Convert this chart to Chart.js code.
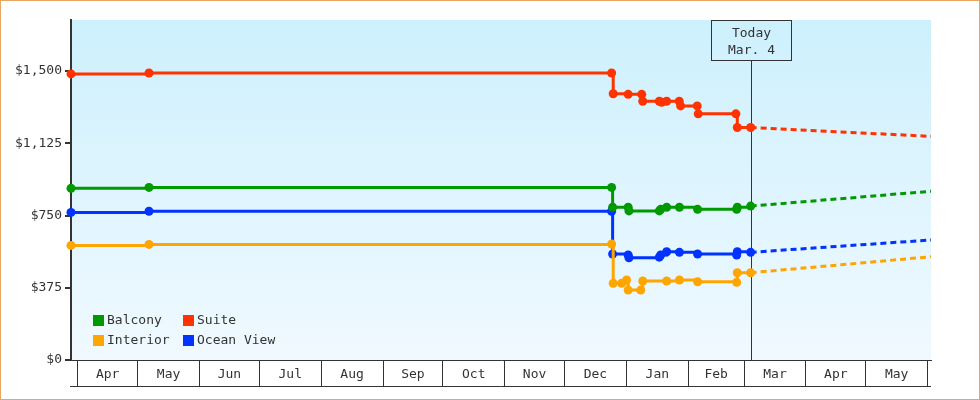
<!DOCTYPE html>
<html><head><meta charset="utf-8">
<style>html,body{margin:0;padding:0;background:#fff;overflow:hidden}#wrap{width:980px;height:400px;position:relative}</style>
<script src="https://cdn.jsdelivr.net/npm/chart.js@4/dist/chart.umd.min.js"></script>
</head><body><div id="wrap"><canvas id="c" width="980" height="400"></canvas></div>
<script>
// ---- data (x = days since 2024-04-01) ----
const monthLabels = ['Apr','May','Jun','Jul','Aug','Sep','Oct','Nov','Dec','Jan','Feb','Mar','Apr','May'];
const monthStarts = ['2024-04-01','2024-05-01','2024-06-01','2024-07-01','2024-08-01','2024-09-01','2024-10-01',
  '2024-11-01','2024-12-01','2025-01-01','2025-02-01','2025-03-01','2025-04-01','2025-05-01','2025-06-01'];
const yTicks = [0, 375, 750, 1125, 1500];
const xMin = -3.4, xMax = 427.7, yMax = 1765;
const todayDay = 337.3;
const todayText = ['Today', 'Mar. 4'];

const suiteX = [-3.4, 35.7, 267.6, 268.4, 275.9, 282.7, 283.2, 291.5, 292.7, 295.2, 301.5, 302.2, 310.5, 311.0, 329.9, 330.6, 337.3];
const suiteY = [1485, 1490, 1490, 1382, 1379, 1379, 1343, 1343, 1338, 1343, 1343, 1319, 1319, 1278, 1278, 1207, 1207];
const balconyX = [-3.4, 35.7, 267.6, 268.1, 275.9, 276.3, 291.5, 292.2, 295.2, 301.6, 310.7, 330.3, 330.6, 337.3];
const balconyY = [891, 896, 896, 793, 793, 774, 774, 782, 793, 793, 782, 782, 793, 799];
const oceanX = [-3.4, 35.7, 267.6, 268.1, 275.9, 276.3, 291.5, 292.2, 295.2, 301.6, 310.7, 330.3, 330.6, 337.3];
const oceanY = [766, 772, 772, 550, 545, 531, 534, 545, 562, 559, 550, 545, 562, 559];
const interiorX = [-3.4, 35.7, 267.6, 268.4, 272.6, 275.1, 275.9, 282.2, 283.2, 295.2, 301.6, 310.7, 330.3, 330.6, 337.3];
const interiorY = [595, 600, 602, 398, 398, 415, 363, 363, 410, 410, 415, 406, 403, 453, 453];

const forecastX = [337.3, 427.7];
const suiteForecast = [1207, 1161];
const balconyForecast = [799, 876];
const oceanForecast = [559, 623];
const interiorForecast = [453, 536];

// ---- helpers ----
const FONT = '"DejaVu Sans Mono", monospace';
const day0 = Date.parse('2024-04-01');
const boundaries = monthStarts.map(s => (Date.parse(s) - day0) / 86400000);
const xTickValues = [];
boundaries.forEach((b, i) => {
  xTickValues.push(b);
  if (i < boundaries.length - 1) xTickValues.push((b + boundaries[i + 1]) / 2);
});
const pts = (xs, ys) => xs.map((x, i) => ({x, y: ys[i]}));

const COLORS = {balcony: '#009900', suite: '#ff3300', interior: '#ffa500', ocean: '#0033ff'};
function solid(label, color, xs, ys) {
  return {label, data: pts(xs, ys), borderColor: color, backgroundColor: color, borderWidth: 3, clip: false,
    stepped: true, pointRadius: 4.5, pointHoverRadius: 4.5, pointStyle: 'circle', pointBorderWidth: 0, fill: false, showInLegend: true};
}
function dashed(color, ys) {
  return {label: '', data: pts(forecastX, ys), borderColor: color, borderWidth: 3, borderDash: [6, 4],
    pointRadius: 0, fill: false, showInLegend: false};
}

const bgPlugin = {
  id: 'bg',
  beforeDraw(chart) {
    const {ctx, chartArea: a} = chart;
    ctx.save();
    ctx.fillStyle = '#ffffff';
    ctx.fillRect(0, 0, chart.width, chart.height);
    const g = ctx.createLinearGradient(0, a.top, 0, a.bottom);
    g.addColorStop(0, '#cdf0fd');
    g.addColorStop(1, '#f0f9ff');
    ctx.fillStyle = g;
    ctx.fillRect(a.left, a.top, a.right - a.left, a.bottom - a.top);
    ctx.strokeStyle = '#e9a660';
    ctx.lineWidth = 1;
    ctx.strokeRect(0.5, 0.5, chart.width - 1, chart.height - 1);
    ctx.restore();
  },
  beforeDatasetsDraw(chart) {
    const {ctx, chartArea: a, scales: {x}} = chart;
    const px = Math.round(x.getPixelForValue(todayDay)) + 0.5;
    const bw = 80, bh = 40;
    ctx.save();
    ctx.strokeStyle = '#333';
    ctx.lineWidth = 1;
    ctx.beginPath();
    ctx.moveTo(px, a.top + bh);
    ctx.lineTo(px, a.bottom);
    ctx.stroke();
    ctx.strokeRect(px - bw / 2, a.top + 0.5, bw, bh);
    ctx.fillStyle = '#333';
    ctx.font = '13px ' + FONT;
    ctx.textAlign = 'center';
    ctx.textBaseline = 'middle';
    ctx.fillText(todayText[0], px, a.top + 13.5);
    ctx.fillText(todayText[1], px, a.top + 30.5);
    ctx.restore();
  },
  afterDraw(chart) {
    const {ctx, chartArea: a} = chart;
    ctx.save();
    ctx.strokeStyle = '#333';
    ctx.lineWidth = 1;
    const yb = a.bottom + 26 + 0.5;
    ctx.beginPath();
    ctx.moveTo(a.left - 1, yb);
    ctx.lineTo(a.right, yb);
    ctx.stroke();
    // legend
    const items = chart.data.datasets.filter(d => d.showInLegend);
    ctx.font = '13px ' + FONT;
    ctx.textBaseline = 'middle';
    ctx.textAlign = 'left';
    items.forEach((d, i) => {
      const col = i % 2, row = Math.floor(i / 2);
      const lx = a.left + 22 + col * 90;
      const ly = a.bottom - 40 + row * 20;
      ctx.fillStyle = d.borderColor;
      ctx.fillRect(lx, ly - 5, 11, 11);
      ctx.fillStyle = '#333';
      ctx.fillText(d.label, lx + 14, ly + 1);
    });
    ctx.restore();
  }
};

new Chart(document.getElementById('c'), {
  type: 'line',
  data: {
    datasets: [
      solid('Balcony', COLORS.balcony, balconyX, balconyY),
      solid('Suite', COLORS.suite, suiteX, suiteY),
      solid('Interior', COLORS.interior, interiorX, interiorY),
      solid('Ocean View', COLORS.ocean, oceanX, oceanY),
      dashed(COLORS.balcony, balconyForecast),
      dashed(COLORS.suite, suiteForecast),
      dashed(COLORS.interior, interiorForecast),
      dashed(COLORS.ocean, oceanForecast)
    ]
  },
  options: {
    responsive: false,
    animation: false,
    events: [],
    layout: {padding: {left: 0, right: 49, top: 20, bottom: 0}},
    plugins: {legend: {display: false}, tooltip: {enabled: false}},
    scales: {
      x: {
        type: 'linear', min: xMin, max: xMax,
        afterBuildTicks(s) { s.ticks = xTickValues.map(v => ({value: v})); },
        afterFit(s) { s.height = 40; },
        grid: {drawOnChartArea: false, drawTicks: true, tickLength: 26, lineWidth: 1,
          color: c => (c.index % 2 === 0 ? '#333' : 'rgba(0,0,0,0)')},
        border: {display: true, color: '#333', width: 1},
        ticks: {autoSkip: false, maxRotation: 0, minRotation: 0, padding: -19, color: '#333',
          font: {family: FONT, size: 13},
          callback: (v, i) => (i % 2 === 1 ? monthLabels[(i - 1) / 2] : '')}
      },
      y: {
        type: 'linear', min: 0, max: yMax,
        afterBuildTicks(s) { s.ticks = yTicks.map(v => ({value: v})); },
        afterFit(s) { s.width = 71; },
        grid: {drawOnChartArea: false, drawTicks: true, tickLength: 6, lineWidth: 2, color: '#333'},
        border: {display: true, color: '#333', width: 2},
        ticks: {padding: 3, color: '#333', font: {family: FONT, size: 13},
          callback: v => '$' + Number(v).toLocaleString('en-US')}
      }
    }
  },
  plugins: [bgPlugin]
});
</script>
</body></html>
